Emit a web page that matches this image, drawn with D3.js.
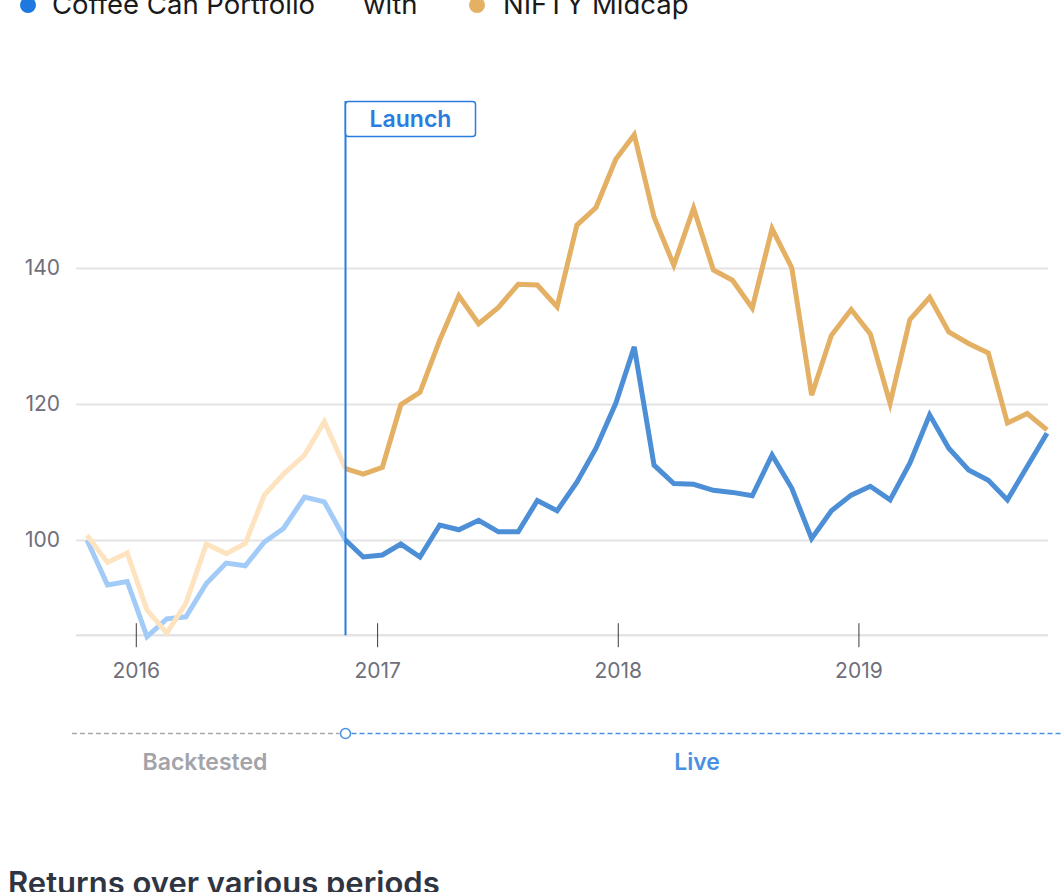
<!DOCTYPE html>
<html><head><meta charset="utf-8">
<script src="https://cdn.jsdelivr.net/npm/d3@7"></script>
<style>body{margin:0;background:#fff;overflow:hidden}svg{display:block}</style>
</head><body>
<script>
// ---------- data ----------
const dates = [
 "2015-10-19","2015-11-19","2015-12-19","2016-01-18","2016-02-17","2016-03-17","2016-04-17","2016-05-17",
 "2016-06-15","2016-07-14","2016-08-12","2016-09-13","2016-10-13","2016-11-14","2016-12-11","2017-01-09",
 "2017-02-06","2017-03-07","2017-04-06","2017-05-05","2017-06-04","2017-07-04","2017-08-03","2017-09-01",
 "2017-10-01","2017-10-31","2017-11-29","2017-12-29","2018-01-26","2018-02-25","2018-03-27","2018-04-26",
 "2018-05-26","2018-06-24","2018-07-24","2018-08-23","2018-09-22","2018-10-22","2018-11-21","2018-12-21",
 "2019-01-19","2019-02-18","2019-03-20","2019-04-19","2019-05-18","2019-06-17","2019-07-17","2019-08-15",
 "2019-09-14","2019-10-14"];
const coffeeCan = [
 100.0, 93.4, 93.9, 85.8, 88.4, 88.7, 93.6, 96.6, 96.2, 99.7, 101.7, 106.3, 105.6, 100.0,
 97.5, 97.8, 99.4, 97.5, 102.2, 101.5, 102.9, 101.2, 101.2, 105.8, 104.3, 108.5, 113.5, 120.1,
 128.4, 111.0, 108.3, 108.2, 107.3, 107.0, 106.5, 112.5, 107.6, 100.2, 104.3, 106.6, 107.9, 105.9,
 111.3, 118.4, 113.5, 110.3, 108.8, 105.9, 110.8, 115.7];
const niftyMidcap = [
 100.7, 96.7, 98.1, 89.7, 86.3, 90.7, 99.4, 98.0, 99.5, 106.6, 109.7, 112.5, 117.4, 110.5,
 109.7, 110.7, 119.9, 121.7, 129.4, 135.9, 131.8, 134.2, 137.6, 137.5, 134.3, 146.3, 148.9, 156.0,
 159.6, 147.5, 140.4, 148.8, 139.7, 138.2, 134.1, 145.8, 140.0, 121.3, 130.1, 133.9, 130.3, 120.1,
 132.4, 135.7, 130.6, 128.9, 127.5, 117.2, 118.6, 116.2];
const launchIndex = 13;
const yTickValues = [100, 120, 140];
const xTickDates = ["2016-01-01", "2017-01-01", "2018-01-01", "2019-01-01"];
const legendLabels = ["Coffee Can Portfolio", "with", "NIFTY Midcap"];
const phaseLabels = ["Backtested", "Live"];
const launchLabel = "Launch";
const sectionTitle = "Returns over various periods";

// ---------- setup ----------
const W = 1063, H = 892;
const FONT = "Inter, 'Noto Sans', sans-serif";
const svg = d3.select("body").append("svg").attr("width", W).attr("height", H);
const parse = d3.utcParse("%Y-%m-%d");
const dd = dates.map(parse);

const x = d3.scaleUtc().domain([dd[0], dd[dd.length - 1]]).range([87, 1047]);
const y = d3.scaleLinear().domain([86, 160]).range([635.2, 132]);
const gridLeft = 76, gridRight = 1048;

// grid + y labels
const gy = svg.append("g").attr("transform", `translate(${gridRight},0)`)
  .call(d3.axisLeft(y).tickValues(yTickValues).tickSize(gridRight - gridLeft).tickPadding(16).tickFormat(d3.format("d")));
gy.select(".domain").remove();
gy.selectAll("line").attr("stroke", "#e4e4e6").attr("stroke-width", 2);
gy.selectAll("text").attr("font-family", FONT).attr("font-size", 21).attr("fill", "#6f6f7b");

// baseline
svg.append("line").attr("x1", gridLeft).attr("x2", gridRight)
  .attr("y1", y(86)).attr("y2", y(86)).attr("stroke", "#e4e4e6").attr("stroke-width", 2.5);

// x axis ticks
const gx = svg.append("g").attr("transform", `translate(0,${y(86) - 12})`)
  .call(d3.axisBottom(x).tickValues(xTickDates.map(parse)).tickSize(24).tickPadding(16).tickFormat(d3.utcFormat("%Y")));
gx.select(".domain").remove();
gx.selectAll("line").attr("stroke", "#3a3a3a").attr("stroke-width", 1);
gx.selectAll("text").attr("font-family", FONT).attr("font-size", 21).attr("fill", "#6f6f7b");

// lines
const line = d3.line().x(d => x(d.date)).y(d => y(d.v));
function series(vals) { return vals.map((v, i) => ({ date: dd[i], v })); }
const seriesDefs = [
  { vals: coffeeCan, back: "#a3cbf8", live: "#4d8fd7" },
  { vals: niftyMidcap, back: "#fde3bf", live: "#e4b064" }
];
seriesDefs.forEach(s => {
  const pts = series(s.vals);
  svg.append("path").attr("d", line(pts.slice(0, launchIndex + 1)))
    .attr("fill", "none").attr("stroke", s.back).attr("stroke-width", 5).attr("stroke-linejoin", "miter");
});
seriesDefs.forEach(s => {
  const pts = series(s.vals);
  svg.append("path").attr("d", line(pts.slice(launchIndex)))
    .attr("fill", "none").attr("stroke", s.live).attr("stroke-width", 5).attr("stroke-linejoin", "miter");
});

// launch marker
const lx = Math.round(x(dd[launchIndex])) + 0.5;
svg.append("line").attr("x1", lx).attr("x2", lx).attr("y1", 101).attr("y2", y(86))
  .attr("stroke", "#2a7ce0").attr("stroke-width", 2);
svg.append("rect").attr("x", lx).attr("y", 101.5).attr("width", 130).attr("height", 35).attr("rx", 3)
  .attr("fill", "#fff").attr("stroke", "#2a7ce0").attr("stroke-width", 1.5);
svg.append("text").attr("x", lx + 65).attr("y", 126.5).attr("text-anchor", "middle")
  .attr("font-family", FONT).attr("font-size", 23).attr("font-weight", 600).attr("fill", "#2a7ce0").text(launchLabel);

// phase timeline
const ty = 733.5;
svg.append("line").attr("x1", 72).attr("x2", lx - 6).attr("y1", ty).attr("y2", ty)
  .attr("stroke", "#a8a8ae").attr("stroke-width", 1.5).attr("stroke-dasharray", "5,3");
svg.append("line").attr("x1", lx + 6).attr("x2", W).attr("y1", ty).attr("y2", ty)
  .attr("stroke", "#4a90e2").attr("stroke-width", 1.5).attr("stroke-dasharray", "5,3");
svg.append("circle").attr("cx", lx).attr("cy", ty).attr("r", 5)
  .attr("fill", "#fff").attr("stroke", "#4a90e2").attr("stroke-width", 1.5);
svg.append("text").attr("x", 205).attr("y", 770).attr("text-anchor", "middle")
  .attr("font-family", FONT).attr("font-size", 23).attr("font-weight", 600).attr("fill", "#a3a3a9").text(phaseLabels[0]);
svg.append("text").attr("x", 697).attr("y", 770).attr("text-anchor", "middle")
  .attr("font-family", FONT).attr("font-size", 23).attr("font-weight", 600).attr("fill", "#4a90e2").text(phaseLabels[1]);

// legend (top, partially cut)
const lg = svg.append("g");
lg.append("circle").attr("cx", 28).attr("cy", 5).attr("r", 8).attr("fill", "#1f78e0");
lg.append("text").attr("x", 52).attr("y", 14).attr("font-family", FONT).attr("font-size", 27.5).attr("fill", "#1a1a1a").text(legendLabels[0]);
lg.append("text").attr("x", 363).attr("y", 14).attr("font-family", FONT).attr("font-size", 27.5).attr("fill", "#1a1a1a").text(legendLabels[1]);
lg.append("circle").attr("cx", 477).attr("cy", 5).attr("r", 8).attr("fill", "#e4b064");
lg.append("text").attr("x", 503).attr("y", 14).attr("font-family", FONT).attr("font-size", 27.5).attr("fill", "#1a1a1a").text(legendLabels[2]);

// section title (cut at bottom)
svg.append("text").attr("x", 8).attr("y", 894).attr("font-family", FONT).attr("font-size", 31)
  .attr("font-weight", 600).attr("fill", "#2f3542").text(sectionTitle);
</script>
</body></html>
